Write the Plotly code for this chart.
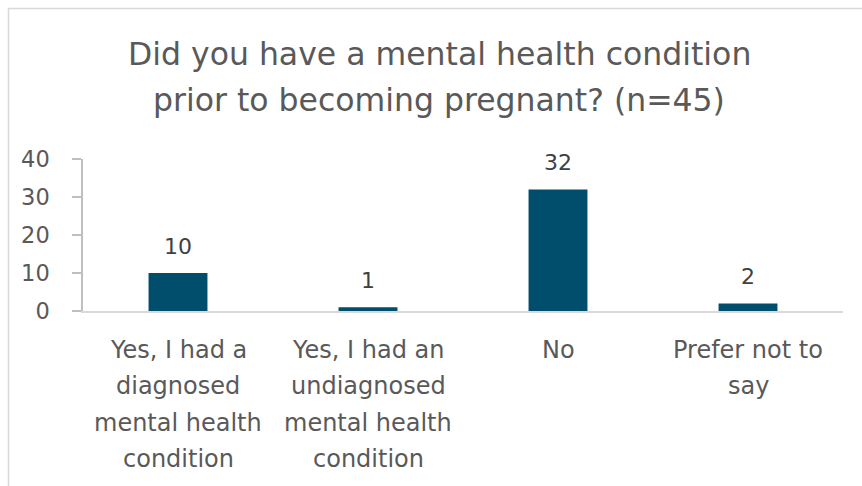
import plotly.graph_objects as go

categories = [
    "Yes, I had a diagnosed mental health condition",
    "Yes, I had an undiagnosed mental health condition",
    "No",
    "Prefer not to say",
]
label_lines = [
    ["Yes, I had a", "diagnosed", "mental health", "condition"],
    ["Yes, I had an", "undiagnosed", "mental health", "condition"],
    ["No"],
    ["Prefer not to", "say"],
]
values = [10, 1, 32, 2]
title_lines = ["Did you have a mental health condition", "prior to becoming pregnant? (n=45)"]
y_ticks = [0, 10, 20, 30, 40]

W, H = 862, 486
L, R, T, B = 83, 19, 159, 175
PW, PH = W - L - R, H - T - B
FONT = "DejaVu Sans"
TXT = "#595959"


def px_x(p):
    return (p - L) / PW


def px_y(p):
    return (H - B - p) / PH


fig = go.Figure(
    go.Bar(
        x=categories,
        y=values,
        width=0.31,
        marker=dict(color="#004e6c", line=dict(width=0)),
        hoverinfo="x+y",
    )
)

annotations = []
for i, line in enumerate(title_lines):
    annotations.append(dict(
        text=line, xref="paper", yref="paper", x=px_x(439), y=px_y(54 + 46 * i),
        xanchor="center", yanchor="middle", showarrow=False,
        font=dict(family=FONT, size=31.5, color=TXT),
    ))

for cat, v in zip(categories, values):
    annotations.append(dict(
        text=str(v), x=cat, y=v, xref="x", yref="y",
        xanchor="center", yanchor="bottom", yshift=12, showarrow=False,
        font=dict(family=FONT, size=22, color="#404040"),
    ))

for cat, lines in zip(categories, label_lines):
    for j, line in enumerate(lines):
        annotations.append(dict(
            text=line, x=cat, xref="x", yref="paper", y=px_y(350 + 36.3 * j),
            xanchor="center", yanchor="middle", showarrow=False,
            font=dict(family=FONT, size=24, color=TXT),
        ))

shapes = [
    dict(type="line", xref="paper", yref="paper", x0=px_x(8.5), x1=px_x(8.5),
         y0=px_y(8), y1=px_y(H + 5), line=dict(color="#d9d9d9", width=1.5)),
    dict(type="line", xref="paper", yref="paper", x0=px_x(8), x1=px_x(W + 5),
         y0=px_y(8.5), y1=px_y(8.5), line=dict(color="#d9d9d9", width=1.5)),
]

fig.update_layout(
    width=W, height=H,
    margin=dict(l=L, r=R, t=T, b=B, pad=0),
    paper_bgcolor="white", plot_bgcolor="white",
    showlegend=False,
    annotations=annotations,
    shapes=shapes,
    bargap=0.69,
)
fig.update_xaxes(
    showticklabels=False, ticks="", showgrid=False, zeroline=False,
    showline=True, linecolor="#d9d9d9", linewidth=1.5,
)
fig.update_yaxes(
    range=[0, 40], tickvals=y_ticks, showgrid=False, zeroline=False,
    showline=True, linecolor="#bfbfbf", linewidth=1.5,
    ticks="outside", ticklen=9, tickwidth=1.5, tickcolor="#bfbfbf",
    ticklabelstandoff=18,
    tickfont=dict(family=FONT, size=22.5, color=TXT),
)

fig.write_html("out.html")
